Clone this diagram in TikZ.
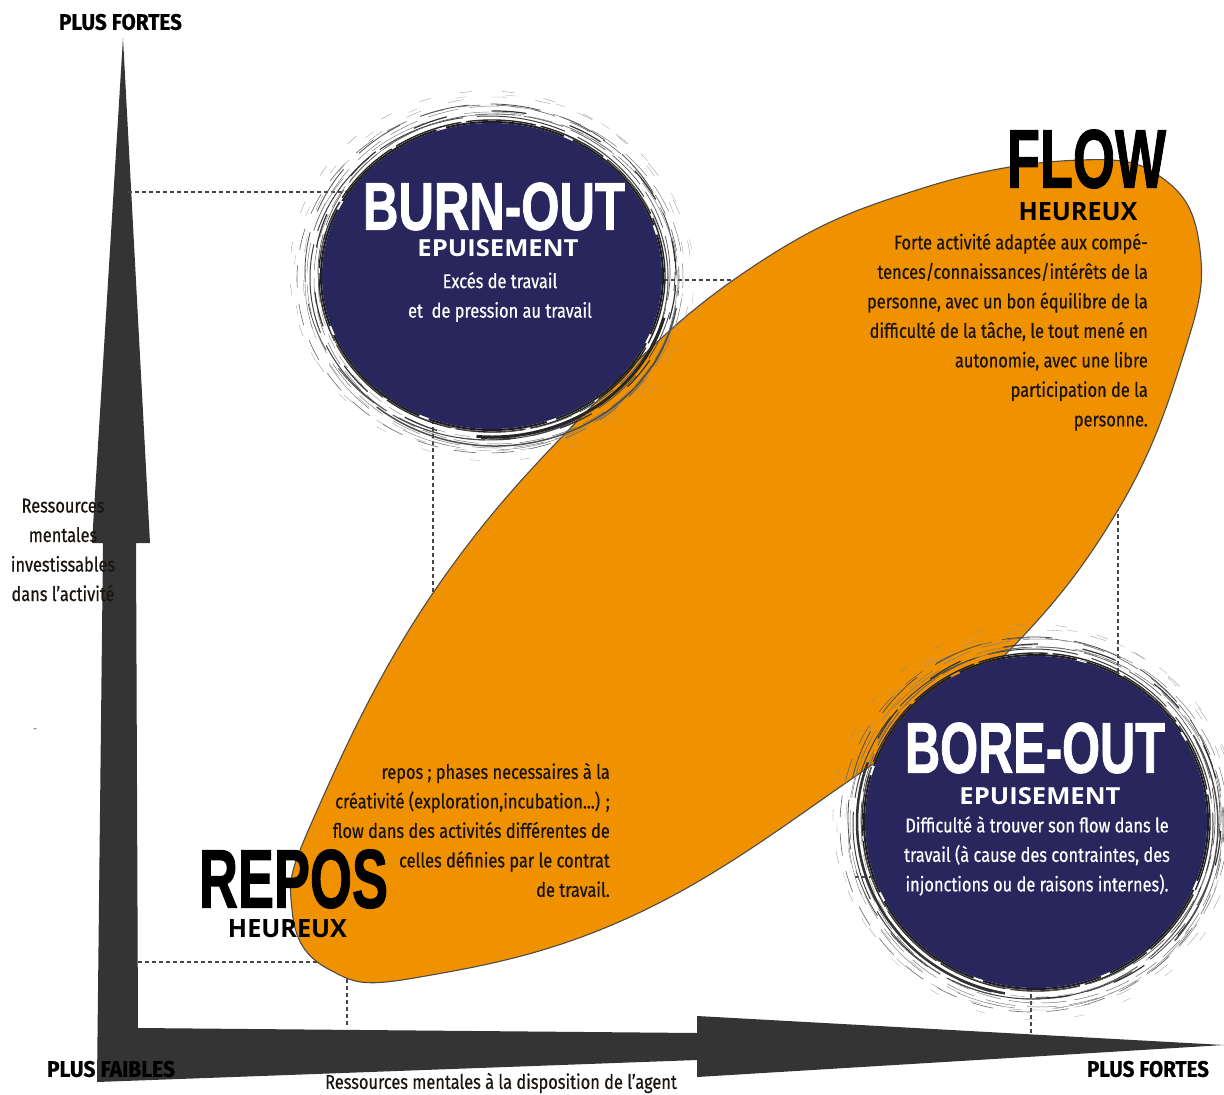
\documentclass[tikz,border=0pt]{standalone}
\usepackage{fontspec}
\usepackage{graphicx}
\setmainfont{Fira Sans}
\newfontfamily\condfont[FakeStretch=0.82,FakeBold=0.5]{Fira Sans}
\newfontfamily\capfont{Open Sans}
\newfontfamily\titlefont[FakeBold=1.5]{Liberation Sans}
\definecolor{navy}{RGB}{41,37,93}
\definecolor{orng}{RGB}{240,145,0}
\definecolor{axisgray}{RGB}{52,52,52}
\definecolor{dashgray}{RGB}{70,70,70}
\definecolor{ink}{RGB}{25,20,15}
\tikzset{
  guide/.style={dashgray, line width=1.4pt, dash pattern=on 4pt off 3pt},
  body/.style={font=\condfont\fontsize{20}{29.5}\selectfont, inner sep=0pt},
  subhead/.style={inner sep=0pt},
  bigtitle/.style={inner sep=0pt},
  disk/.style={fill=navy},
  axislabel/.style={inner sep=0pt, text=black}
}
\newcommand\ringset[4]{%
  \foreach \dr/\lw/\gr/\dA/\dB/\dC/\ox/\oy in {
     3/1.4/85/70/5/0/0/0, 6/0.7/65/40/9/13/2/-3, 9/1.0/75/90/14/40/-3/2,
     12/0.5/55/25/8/7/4/3, 15/0.8/70/50/22/31/-2/-4, 18/0.5/50/30/12/19/3/1,
     21/0.6/60/22/16/5/-4/3, 5/0.4/45/15/9/3/1/4, 24/0.35/40/16/28/11/5/-2,
     1/2.0/88/120/10/60/0/0, 27/0.3/45/12/30/20/-5/-5, 11/1.2/80/35/45/70/3/-1,
     16/0.4/55/60/40/90/-1/5, 30/0.3/35/10/40/35/2/2}{%
    \draw[black!\gr, line width=\lw pt, dash pattern=on \dA pt off \dB pt, dash phase=\dC pt] (#1+\ox,#2+\oy) ellipse [x radius=#3+\dr, y radius=#4+\dr];}}
\begin{document}
\begin{tikzpicture}[x=1pt,y=-1pt]
\fill[white] (0,0) rectangle (1224,1095);
\useasboundingbox (0,0) rectangle (1224,1095);

% ---------- axes ----------
\coordinate (vtip) at (123,38);
\coordinate (vheadR) at (150,543);
\coordinate (vshR) at (136,543);
\coordinate (corner) at (138,1028);
\coordinate (hshT) at (697,1033);
\coordinate (hheadT) at (697,1016);
\coordinate (htip) at (1224,1045);
\coordinate (hheadB) at (697,1077);
\coordinate (hshB) at (697,1060);
\coordinate (outer) at (97,1082);
\coordinate (vshL) at (103,543);
\coordinate (vheadL) at (92,543);
\fill[axisgray] (vtip) -- (vheadR) -- (vshR) -- (corner) -- (hshT) -- (hheadT) -- (htip) -- (hheadB) -- (hshB) -- (outer) -- (vshL) -- (vheadL) -- cycle;

% ---------- guide lines ----------
\coordinate (g1a) at (128,192); \coordinate (g1b) at (352,192);
\coordinate (g2a) at (650,280); \coordinate (g2b) at (745,280);
\coordinate (g3a) at (433,420); \coordinate (g3b) at (433,605);
\coordinate (g4a) at (1118,500); \coordinate (g4b) at (1118,690);
\coordinate (g5a) at (138,962); \coordinate (g5b) at (335,962);
\coordinate (g6a) at (347,965); \coordinate (g6b) at (347,1028);
\coordinate (g7a) at (855,877); \coordinate (g7b) at (880,877);
\coordinate (g8a) at (1031,980); \coordinate (g8b) at (1031,1036);
\draw[guide] (g1a) -- (g1b);
\draw[guide] (g2a) -- (g2b);
\draw[guide] (g3a) -- (g3b);
\draw[guide] (g4a) -- (g4b);
\draw[guide] (g5a) -- (g5b);
\draw[guide] (g6a) -- (g6b);
\draw[guide] (g7a) -- (g7b);
\draw[guide] (g8a) -- (g8b);

% ---------- orange ellipse ----------
\draw[fill=orng, draw=black!70, line width=1.1pt] plot[smooth cycle, tension=0.7] coordinates {
 (1080,160) (1165,180) (1200,250) (1185,350) (1118,510) (1000,660) (850,780) (630,917)
 (420,977) (330,970) (292,910) (315,815) (433,593) (600,398) (760,262) (920,189)};

% ---------- burn-out disk ----------
\ringset{492}{276}{170}{153}
\draw[black!85, line width=3pt] (492,276) ++(15:178 and 161) arc[start angle=15, end angle=95, x radius=178, y radius=161];
\draw[black!70, line width=1.5pt] (495,279) ++(10:184 and 167) arc[start angle=10, end angle=130, x radius=184, y radius=167];
\fill[disk] (492,276) ellipse [x radius=170, y radius=153];

% ---------- bore-out disk ----------
\ringset{1036}{822}{171}{166}
\draw[black!80, line width=2.5pt] (1036,822) ++(100:179 and 174) arc[start angle=100, end angle=200, x radius=179, y radius=174];
\draw[black!70, line width=1.5pt] (1033,825) ++(-30:185 and 180) arc[start angle=-30, end angle=40, x radius=185, y radius=180];
\fill[disk] (1036,822) ellipse [x radius=171, y radius=166];

% ---------- titles ----------
\node[bigtitle, text=white] (burnT) at (494,206.5) {\resizebox{262pt}{47pt}{\titlefont\bfseries BURN-OUT}};
\node[subhead, text=white] (burnS) at (498,248.5) {\resizebox{161pt}{17pt}{\capfont\bfseries EPUISEMENT}};
\node[body, text=white, align=center] (burnB) at (500,297) {Excés de travail\\et\ \ de pression au travail};

\node[bigtitle, text=black] (flowT) at (1086.5,159) {\resizebox{159pt}{58pt}{\titlefont\bfseries FLOW}};
\node[subhead, text=black] (flowS) at (1078,212) {\resizebox{119pt}{18pt}{\capfont\bfseries HEUREUX}};
\node[body, text=ink, align=right, anchor=east] (flowB) at (1148,332) {Forte activité adaptée aux compé-\\tences/connaissances/intérêts de la\\personne, avec un bon équilibre de la\\difficulté de la tâche, le tout mené en\\autonomie, avec une libre\\participation de la\\personne.};

\node[bigtitle, text=white] (boreT) at (1035,748) {\resizebox{260pt}{50pt}{\titlefont\bfseries BORE-OUT}};
\node[subhead, text=white] (boreS) at (1040,796) {\resizebox{161pt}{17pt}{\capfont\bfseries EPUISEMENT}};
\node[body, text=white, align=center] (boreB) at (1037,856) {Difficulté à trouver son flow dans le\\travail (à cause des contraintes, des\\injonctions ou de raisons internes).};

\node[bigtitle, text=black] (reposT) at (293.5,879) {\resizebox{189pt}{58pt}{\titlefont\bfseries REPOS}};
\node[subhead, text=black] (reposS) at (287.5,929) {\resizebox{119pt}{18pt}{\capfont\bfseries HEUREUX}};
\node[body, text=ink, align=right, anchor=east] (reposB) at (610,830) {repos ; phases necessaires à la\\créativité (exploration,incubation...) ;\\flow dans des activités différentes de\\celles définies par le contrat\\de travail.};

% ---------- axis labels ----------
\node[axislabel] (ytop) at (120.5,22) {\resizebox{123pt}{16pt}{\condfont\bfseries PLUS FORTES}};
\node[axislabel] (xlow) at (111,1069) {\resizebox{128pt}{16pt}{\condfont\bfseries PLUS FAIBLES}};
\node[axislabel] (xhigh) at (1148,1069) {\resizebox{122pt}{16pt}{\condfont\bfseries PLUS FORTES}};
\node[body, text=ink, align=center] (ylab) at (63,550) {Ressources\\mentales\\investissables\\dans l’activité};
\node[body, text=ink] (xlab) at (501,1083) {Ressources mentales à la disposition de l’agent};
\node[font=\condfont\fontsize{10}{10}\selectfont, text=black!60, inner sep=0pt] (tick) at (35,730) {-};
\end{tikzpicture}
\end{document}
